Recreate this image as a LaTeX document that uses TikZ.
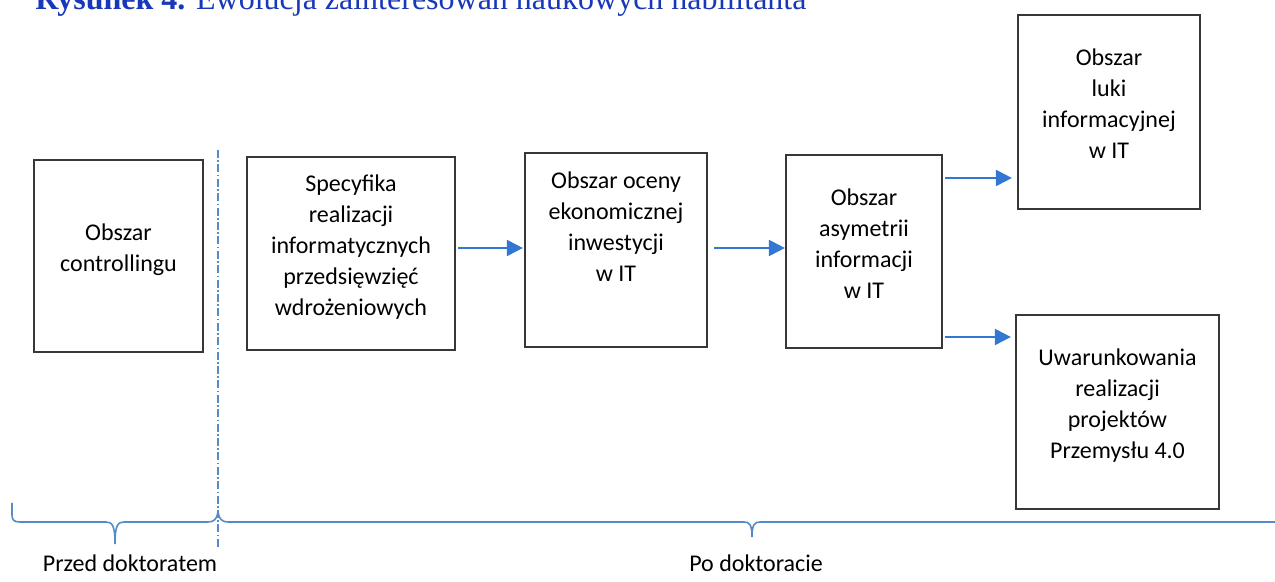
\documentclass[tikz,border=0pt]{standalone}
\usepackage{fontspec}
\setmainfont{Carlito}
\newfontfamily\titlefont{Liberation Serif}
\usetikzlibrary{positioning}
\usetikzlibrary{arrows.meta}
\definecolor{flowblue}{RGB}{50,120,210}
\definecolor{lineblue}{RGB}{85,140,200}
\definecolor{titleblue}{RGB}{25,55,185}
\definecolor{boxgray}{RGB}{55,55,55}
\tikzstyle{area}=[draw=boxgray, line width=1.1pt, align=center, inner sep=0pt, text depth=8pt, font=\fontsize{12}{15.5}\selectfont]
\tikzstyle{flow}=[draw=flowblue, line width=1pt, -{Triangle[length=8pt,width=8pt]}]
\tikzstyle{period}=[draw=lineblue, line width=0.8pt]
\tikzstyle{divider}=[draw=lineblue, line width=0.6pt, dash pattern=on 4pt off 1.2pt on 0.8pt off 1.2pt]
\tikzstyle{caption}=[font=\fontsize{12}{14}\selectfont, anchor=base]

\begin{document}
\begin{tikzpicture}[x=0.5pt, y=-0.5pt]
    \useasboundingbox (0,0) rectangle (1275,582);
    % Caption of the figure, cut off by the page edge
    \node[anchor=base west, inner sep=0pt, text=titleblue, font=\titlefont\fontsize{16}{18}\selectfont] (title) at (35,10) {\textbf{Rysunek 4.} Ewolucja zainteresowań naukowych habilitanta};

    % First we draw the research areas
    \foreach \pos/\name/\w/\h/\txt in {{(118.5,256)/b1/84.5pt/96pt/{Obszar\\controllingu}},
        {(351,253.5)/b2/104pt/96.5pt/{Specyfika\\realizacji\\informatycznych\\przedsięwzięć\\wdrożeniowych}},
        {(616,250)/b3/91pt/97pt/{Obszar oceny\\ekonomicznej\\inwestycji\\w IT\\ \mbox{}}},
        {(864,251.5)/b4/78pt/96.5pt/{Obszar\\asymetrii\\informacji\\w IT}},
        {(1109,112)/b5/91pt/97pt/{Obszar\\luki\\informacyjnej\\w IT}},
        {(1117.5,412)/b6/101.5pt/97pt/{Uwarunkowania\\realizacji\\projektów\\Przemysłu 4.0}}}
        \node[area, minimum width=\w, minimum height=\h] (\name) at \pos {\txt};

    % Connect the areas with arrows
    \foreach \src/\dst/\dy/\sa/\sb in {b2/b3/2.75pt/1pt/0.5pt, b3/b4/1pt/3pt/0pt, b4/b5/36.75pt/1pt/2.5pt, b4/b6/-42.75pt/1pt/2pt}
    {
        \path ([yshift=\dy]\src.east) coordinate (from);
        \draw[flow, shorten <=\sa, shorten >=\sb] (from) -- (from -| \dst.west);
    }

    % Timeline below
    \draw[divider] (218,150) -- (218,547);
    \draw[period] (12,503) -- (12,515) .. controls (12,520) and (14,522) .. (20,522) -- (106,522)
        .. controls (112,522) and (115,525) .. (115,544) .. controls (115,525) and (118,522) .. (124,522)
        -- (208,522) .. controls (214,522) and (217,519) .. (218,512);
    \draw[period] (218,512) .. controls (219,519) and (222,522) .. (228,522) -- (744,522)
        .. controls (749,522) and (752,524) .. (752,537) .. controls (752,524) and (755,522) .. (760,522)
        -- (1280,522);
    \node[caption] (before) at (130,572) {Przed doktoratem};
    \node[caption] (after) at (756,572) {Po doktoracie};
\end{tikzpicture}
\end{document}
